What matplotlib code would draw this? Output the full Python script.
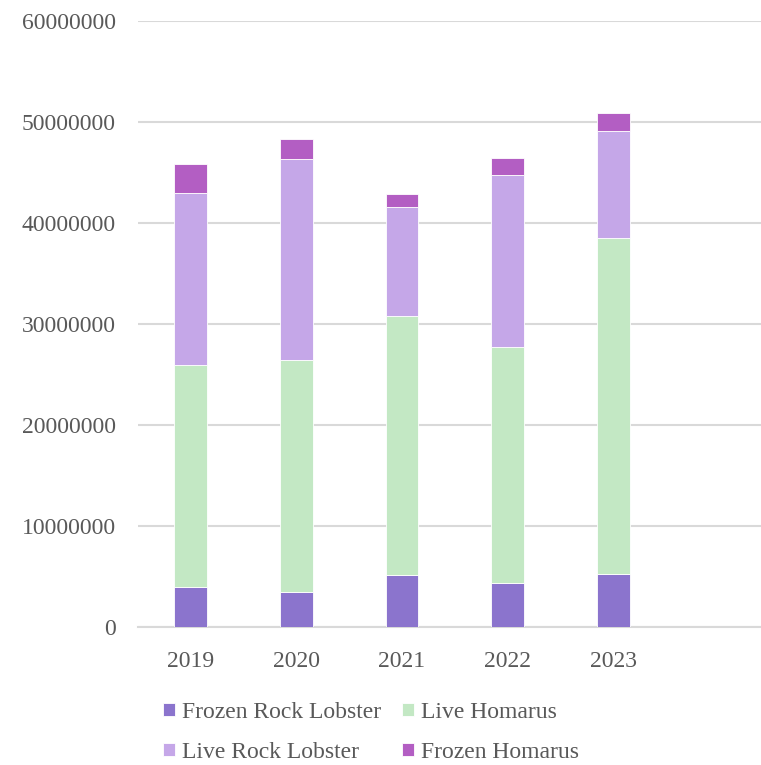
import numpy as np
import matplotlib.pyplot as plt

years = ['2019', '2020', '2021', '2022', '2023']
frozen_rock_lobster = [3990000, 3500000, 5180000, 4330000, 5280000]
live_homarus = [21950000, 22940000, 25610000, 23390000, 33230000]
live_rock_lobster = [17060000, 19900000, 10790000, 17000000, 10600000]
frozen_homarus = [2810000, 1980000, 1290000, 1690000, 1810000]

series = [
    ('Frozen Rock Lobster', frozen_rock_lobster, '#8B74CD'),
    ('Live Homarus', live_homarus, '#C3E8C4'),
    ('Live Rock Lobster', live_rock_lobster, '#C5A7E8'),
    ('Frozen Homarus', frozen_homarus, '#B35EC3'),
]

plt.rcParams['font.family'] = ['Liberation Serif', 'DejaVu Serif']

fig = plt.figure(figsize=(7.61, 7.65), dpi=100)
ax = fig.add_axes([138 / 761, 138 / 765, 623 / 761, 606 / 765])

x = np.arange(len(years))
bottom = np.zeros(len(years))
handles = []
for name, vals, color in series:
    b = ax.bar(x, vals, width=0.31, bottom=bottom, color=color,
               edgecolor='white', linewidth=0.6, label=name, zorder=3)
    handles.append(b)
    bottom += np.array(vals)

ax.set_ylim(0, 60000000)
ax.set_xlim(-0.5, 5.4)
ax.set_yticks(np.arange(0, 60000001, 10000000))
ax.yaxis.set_major_formatter(plt.FuncFormatter(lambda v, p: '%d' % v))
ax.set_xticks(x)
ax.set_xticklabels(years)
ax.grid(axis='y', color='#D9D9D9', linewidth=1.5, zorder=0)
for s in ['top', 'right', 'left']:
    ax.spines[s].set_visible(False)
ax.spines['bottom'].set_color('#D9D9D9')
ax.spines['bottom'].set_linewidth(1.5)
ax.tick_params(axis='both', length=0, labelsize=17, colors='#595959')
ax.tick_params(axis='y', pad=16)
ax.tick_params(axis='x', pad=17)

# row-wise order: FRL, LH / LRL, FH
order = [0, 2, 1, 3]
fig.legend(handles=[handles[i] for i in order], loc='upper left',
           bbox_to_anchor=(163 / 761, 1 - 702 / 765),
           ncol=2, frameon=False, fontsize=17, labelcolor='#595959',
           handlelength=0.5, handleheight=0.5, handletextpad=0.3,
           columnspacing=0.9, labelspacing=0.8, borderpad=0, borderaxespad=0)

fig.savefig('out.png', dpi=100)
